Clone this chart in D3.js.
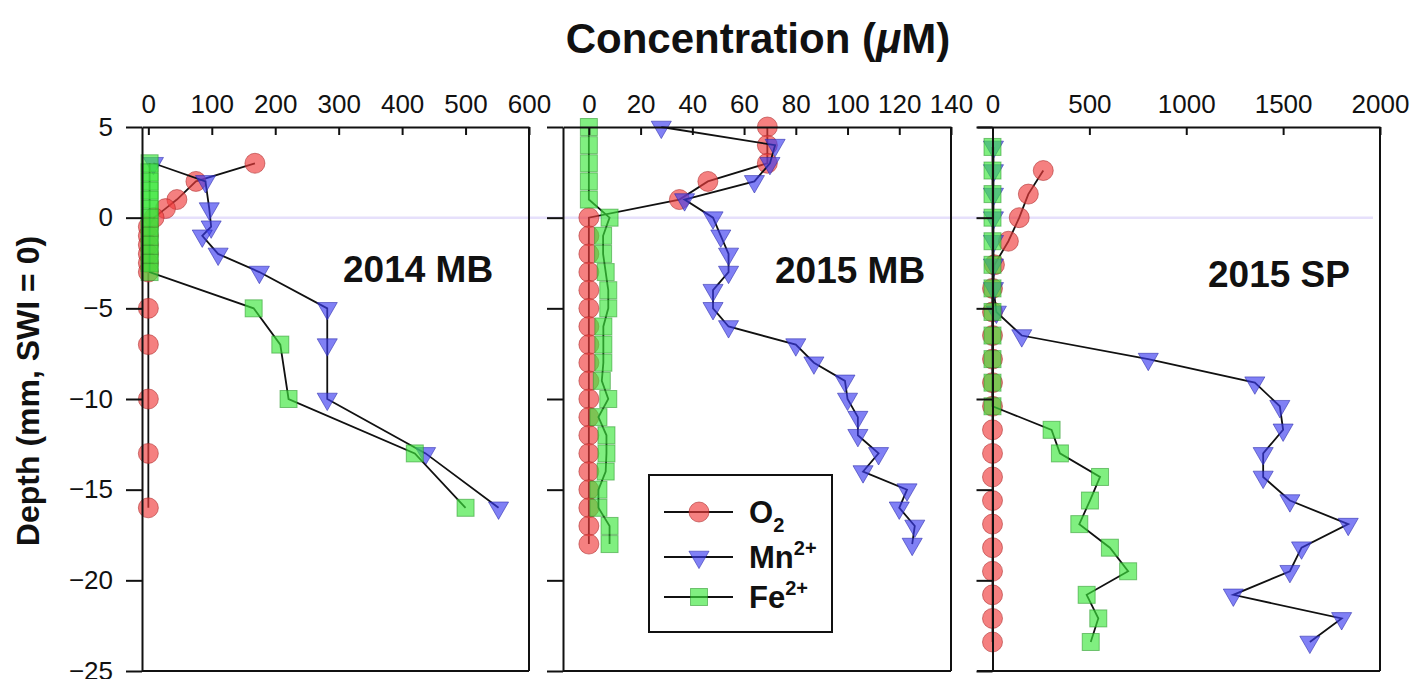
<!DOCTYPE html>
<html>
<head>
<meta charset="utf-8">
<script src="https://cdn.jsdelivr.net/npm/d3@7"></script>
<style>
body { margin: 0; background: #fff; }
svg { display: block; }
text { font-family: "Liberation Sans", Arial, sans-serif; }
</style>
</head>
<body>
<div id="chart"></div>
<script>
// ---- data (depth in mm, concentration in uM) ----

// 2014 MB
var mb14_o2_depth = [3, 2, 1, 0.5, 0, -0.5, -1, -1.5, -2, -2.5, -3, -5, -7, -10, -13, -16];
var mb14_o2       = [168, 75, 45, 27, 9, 0, 0, 0, 0, 0, 0, 0, 0, 0, 0, 0];
var mb14_mn_depth = [3, 2, 0.5, -0.5, -1, -2, -3, -5, -7, -10, -13, -16];
var mb14_mn       = [8, 90, 96, 99, 85, 110, 175, 282, 282, 282, 437, 552];
var mb14_fe_depth = [3, 2.5, 2, 1.5, 1, 0.5, 0, -0.5, -1, -1.5, -2, -2.5, -3, -5, -7, -10, -13, -16];
var mb14_fe       = [2, 2, 2, 2, 2, 2, 2, 2, 2, 2, 2, 2, 2, 166, 208, 221, 420, 500];

// 2015 MB
var mb15_depth = [5, 4, 3, 2, 1, 0, -1, -2, -3, -4, -5, -6, -7, -8, -9, -10, -11, -12, -13, -14, -15, -16, -17, -18];
var mb15_o2    = [69, 69, 69, 46, 35, 0, 0, 0, 0, 0, 0, 0, 0, 0, 0, 0, 0, 0, 0, 0, 0, 0, 0, 0];
var mb15_mn    = [28, 72, 70, 64, 37, 48, 51, 54, 54, 48, 48, 54, 80, 87, 99, 100, 104, 104, 112, 106, 123, 120, 126, 125];
var mb15_fe    = [0, 0, 0, 0, 0, 8, 5.5, 5.5, 6.5, 7.5, 7.5, 5.6, 5.6, 5.6, 5, 7.5, 3.7, 6.8, 6.8, 6.5, 3.7, 3.7, 8, 8];

// 2015 SP
var sp15_depth    = [3.9, 2.6, 1.3, 0, -1.3, -2.6, -3.9, -5.2, -6.5, -7.8, -9.1, -10.4, -11.7, -13, -14.3, -15.6, -16.9, -18.2, -19.5, -20.8, -22.1, -23.4];
var sp15_o2_depth = [2.6, 1.3, 0, -1.3, -2.6, -3.9, -5.2, -6.5, -7.8, -9.1, -10.4, -11.7, -13, -14.3, -15.6, -16.9, -18.2, -19.5, -20.8, -22.1, -23.4];
var sp15_o2       = [262, 185, 138, 82, 10, 0, 0, 0, 0, 0, 0, 0, 0, 0, 0, 0, 0, 0, 0, 0, 0];
var sp15_mn       = [5, 5, 5, 5, 5, 5, 5, 20, 151, 804, 1354, 1483, 1500, 1397, 1397, 1535, 1836, 1595, 1535, 1243, 1802, 1638];
var sp15_fe       = [0, 0, 0, 0, 0, 0, 0, 0, 0, 0, 0, 0, 305, 348, 555, 503, 448, 606, 700, 486, 546, 507];

var xTicks14 = [0, 100, 200, 300, 400, 500, 600];
var xTicks15 = [0, 20, 40, 60, 80, 100, 120, 140];
var xTicksSP = [0, 500, 1000, 1500, 2000];
var yTicks = [5, 0, -5, -10, -15, -20, -25];

function zip(depths, vals) {
  return depths.map(function(d, i) { return {depth: d, c: vals[i]}; });
}

// ---- layout ----
var W = 1415, H = 679;
var plotTop = 127, plotBottom = 671;
var fmt = d3.format("d");

var svg = d3.select("#chart").append("svg")
  .attr("width", W)
  .attr("height", H);

var y = d3.scaleLinear().domain([5, -25]).range([plotTop, plotBottom]);

var panels = [
  {label: "2014 MB", dom: [-10, 600], rng: [142, 529], ticks: xTicks14, yAxisAtZero: false, yLabels: true,
   lab: [343, 282],
   o2: zip(mb14_o2_depth, mb14_o2), mn: zip(mb14_mn_depth, mb14_mn), fe: zip(mb14_fe_depth, mb14_fe)},
  {label: "2015 MB", dom: [-10, 140], rng: [563, 951], ticks: xTicks15, yAxisAtZero: false, yLabels: false,
   lab: [775, 283],
   o2: zip(mb15_depth, mb15_o2), mn: zip(mb15_depth, mb15_mn), fe: zip(mb15_depth, mb15_fe)},
  {label: "2015 SP", dom: [-80, 2000], rng: [977, 1380], ticks: xTicksSP, yAxisAtZero: true, yLabels: false,
   lab: [1208, 287],
   o2: zip(sp15_o2_depth, sp15_o2), mn: zip(sp15_depth, sp15_mn), fe: zip(sp15_depth, sp15_fe)}
];

var styles = {
  o2: {fill: "rgba(240,60,60,0.65)", stroke: "rgba(170,40,40,0.55)"},
  mn: {fill: "rgba(60,60,240,0.65)", stroke: "rgba(40,40,170,0.55)"},
  fe: {fill: "rgba(60,230,60,0.65)", stroke: "rgba(40,150,40,0.55)"}
};

function drawMarker(sel, kind) {
  if (kind === "o2") {
    sel.append("circle").attr("r", 10);
  } else if (kind === "mn") {
    sel.append("path").attr("d", d3.symbol(d3.symbolTriangle, 175)()).attr("transform", "rotate(180)");
  } else {
    sel.append("rect").attr("x", -8.5).attr("y", -8.5).attr("width", 17).attr("height", 17);
  }
  sel.selectAll("circle,path,rect")
    .attr("fill", styles[kind].fill)
    .attr("stroke", styles[kind].stroke)
    .attr("stroke-width", 1);
}

// SWI reference line
svg.append("line")
  .attr("x1", panels[0].rng[0]).attr("x2", 1373)
  .attr("y1", y(0)).attr("y2", y(0))
  .attr("stroke", "#e6e0fb").attr("stroke-width", 2.5);

panels.forEach(function(p) {
  var x = d3.scaleLinear().domain(p.dom).range(p.rng);
  var g = svg.append("g");

  // data
  ["o2", "mn", "fe"].forEach(function(k) {
    var line = d3.line()
      .x(function(d) { return x(d.c); })
      .y(function(d) { return y(d.depth); });
    g.append("path")
      .datum(p[k])
      .attr("d", line)
      .attr("fill", "none")
      .attr("stroke", "#111")
      .attr("stroke-width", 1.8);
    g.selectAll(".m-" + k)
      .data(p[k])
      .enter()
      .append("g")
      .attr("class", "m-" + k)
      .attr("transform", function(d) { return "translate(" + x(d.c) + "," + y(d.depth) + ")"; })
      .each(function() { drawMarker(d3.select(this), k); });
  });

  // top axis
  var ax = g.append("g")
    .attr("transform", "translate(0," + plotTop + ")")
    .call(d3.axisTop(x).tickValues(p.ticks).tickFormat(fmt)
      .tickSizeInner(-8).tickSizeOuter(0).tickPadding(14));
  ax.selectAll("text").attr("font-size", 26).attr("fill", "#111")
    .style("font-family", "'Liberation Sans', Arial, sans-serif");

  // left axis
  var yAxis = d3.axisLeft(y).tickValues(yTicks).tickSizeInner(16).tickSizeOuter(0).tickPadding(13);
  if (!p.yLabels) yAxis.tickFormat("");
  var ayx = p.yAxisAtZero ? x(0) : p.rng[0];
  var ay = g.append("g")
    .attr("transform", "translate(" + ayx + ",0)")
    .call(yAxis);
  ay.selectAll("text").attr("font-size", 26).attr("fill", "#111")
    .style("font-family", "'Liberation Sans', Arial, sans-serif");

  [ax, ay].forEach(function(a) {
    a.selectAll("path,line").attr("stroke", "#111").attr("stroke-width", 2);
  });

  // right and bottom frame
  g.append("line")
    .attr("x1", p.rng[1]).attr("x2", p.rng[1])
    .attr("y1", plotTop).attr("y2", plotBottom)
    .attr("stroke", "#111").attr("stroke-width", 2);
  g.append("line")
    .attr("x1", p.rng[0]).attr("x2", p.rng[1])
    .attr("y1", plotBottom).attr("y2", plotBottom)
    .attr("stroke", "#111").attr("stroke-width", 2);

  g.append("text")
    .attr("x", p.lab[0]).attr("y", p.lab[1])
    .attr("font-size", 37).attr("font-weight", "bold").attr("fill", "#111")
    .text(p.label);
});

// title
var title = svg.append("text")
  .attr("x", 758).attr("y", 53)
  .attr("text-anchor", "middle")
  .attr("font-size", 42).attr("font-weight", "bold").attr("fill", "#111");
title.append("tspan").text("Concentration (");
title.append("tspan").attr("font-style", "italic").text("\u03bc");
title.append("tspan").text("M)");

// y label
svg.append("text")
  .attr("transform", "translate(39,391) rotate(-90)")
  .attr("text-anchor", "middle")
  .attr("font-size", 32).attr("font-weight", "bold").attr("fill", "#111")
  .text("Depth (mm, SWI = 0)");

// legend
var legend = svg.append("g").attr("transform", "translate(649,475)");
legend.append("rect")
  .attr("width", 183).attr("height", 157)
  .attr("fill", "#fff").attr("stroke", "#111").attr("stroke-width", 2);

var legendItems = [
  {k: "o2", base: "O", sub: "2", sup: null},
  {k: "mn", base: "Mn", sub: null, sup: "2+"},
  {k: "fe", base: "Fe", sub: null, sup: "2+"}
];
var legendY = [37, 82, 122];

legendItems.forEach(function(it, i) {
  var row = legend.append("g").attr("transform", "translate(0," + legendY[i] + ")");
  row.append("line").attr("x1", 15).attr("x2", 84)
    .attr("stroke", "#111").attr("stroke-width", 1.8);
  var m = row.append("g").attr("transform", "translate(50,0)");
  drawMarker(m, it.k);
  var t = row.append("text").attr("x", 100).attr("y", 11)
    .attr("font-size", 31).attr("font-weight", "bold").attr("fill", "#111");
  t.append("tspan").text(it.base);
  if (it.sub) t.append("tspan").attr("font-size", 20).attr("dy", 9).text(it.sub);
  if (it.sup) t.append("tspan").attr("font-size", 20).attr("dy", -13).text(it.sup);
});
</script>
</body>
</html>
